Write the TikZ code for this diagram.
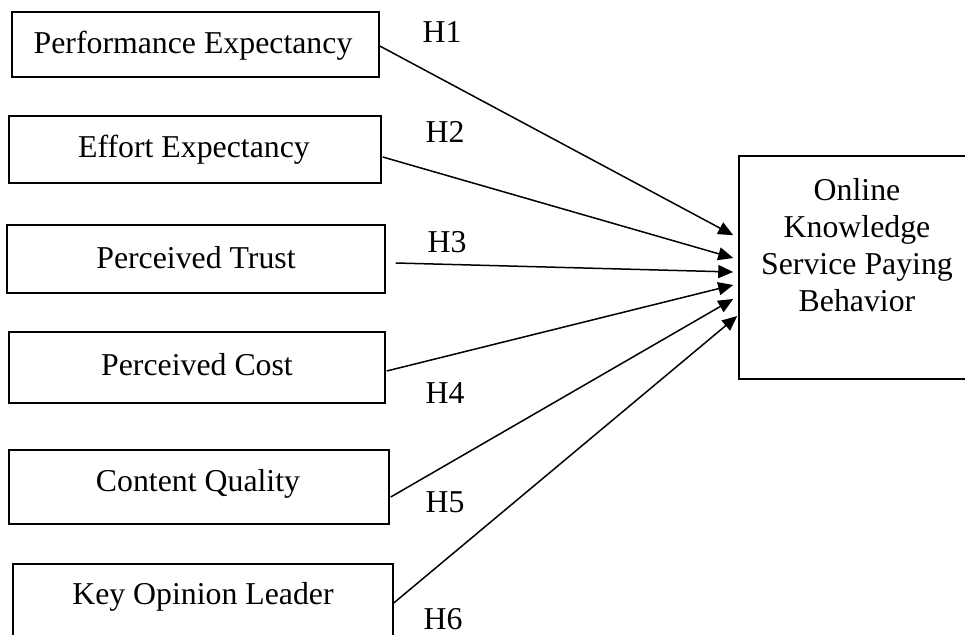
\documentclass[tikz,border=0pt]{standalone}
\usepackage{fontspec}
\setmainfont{Liberation Serif}
\usetikzlibrary{arrows.meta}
\begin{document}
\begin{tikzpicture}[x=0.5pt,y=-0.5pt,
  box/.style={draw,line width=0.75pt,inner sep=0pt},
  lbl/.style={inner sep=0pt,font=\fontsize{15.9}{18.5}\selectfont},
  hyp/.style={inner sep=0pt,font=\fontsize{15.9}{18.5}\selectfont},
  arr/.style={line width=0.75pt,-{Triangle[length=7.5pt,width=6.5pt]}}]
\useasboundingbox (0,0) rectangle (965,635);
% predictor boxes
\node[box,minimum width=367pt*0.5,minimum height=65pt*0.5] (b1) at (195.5,44.5) {};
\node[box,minimum width=372pt*0.5,minimum height=67pt*0.5] (b2) at (195,149.5) {};
\node[box,minimum width=378pt*0.5,minimum height=68pt*0.5] (b3) at (196,259) {};
\node[box,minimum width=376pt*0.5,minimum height=71pt*0.5] (b4) at (197,367.5) {};
\node[box,minimum width=380pt*0.5,minimum height=74pt*0.5] (b5) at (199,487) {};
\node[box,minimum width=380pt*0.5,minimum height=90pt*0.5] (b6) at (203,609) {};
\node[lbl] (t1) at (193,46) {Performance Expectancy};
\node[lbl] (t2) at (194,150) {Effort Expectancy};
\node[lbl] (t3) at (196,258) {Perceived Trust};
\node[lbl] (t4) at (197,365) {Perceived Cost};
\node[lbl] (t5) at (198,484) {Content Quality};
\node[lbl] (t6) at (203,597) {Key Opinion Leader};
% outcome box
\node[box,minimum width=230pt*0.5,minimum height=223pt*0.5] (out) at (854,267.5) {};
\node[lbl,align=center] (tout) at (857,245) {Online\\Knowledge\\Service Paying\\Behavior};
% hypothesis labels
\node[hyp] (h1) at (442,32) {H1};
\node[hyp] (h2) at (445,132) {H2};
\node[hyp] (h3) at (447,242) {H3};
\node[hyp] (h4) at (445,393) {H4};
\node[hyp] (h5) at (445,502) {H5};
\node[hyp] (h6) at (443,619) {H6};
% connectors
\draw[arr] ([yshift=-0.75pt]b1.east) -- ([xshift=-2.5pt,yshift=-40pt]out.north west);
\draw[arr] ([xshift=0.5pt,yshift=-3.75pt]b2.east) -- ([xshift=-2.5pt,yshift=4.75pt]out.west);
\draw[arr] ([xshift=5pt,yshift=-2pt]b3.east) -- ([xshift=-2.5pt,yshift=-2.25pt]out.west);
\draw[arr] ([xshift=0.5pt,yshift=-1.75pt]b4.east) -- ([xshift=-2.5pt,yshift=-8.75pt]out.west);
\draw[arr] ([xshift=0.5pt,yshift=-5pt]b5.east) -- ([xshift=-2.5pt,yshift=-15.75pt]out.west);
\draw[arr] ([yshift=3pt]b6.east) -- ([xshift=-0.5pt,yshift=-24.25pt]out.west);
\end{tikzpicture}
\end{document}
